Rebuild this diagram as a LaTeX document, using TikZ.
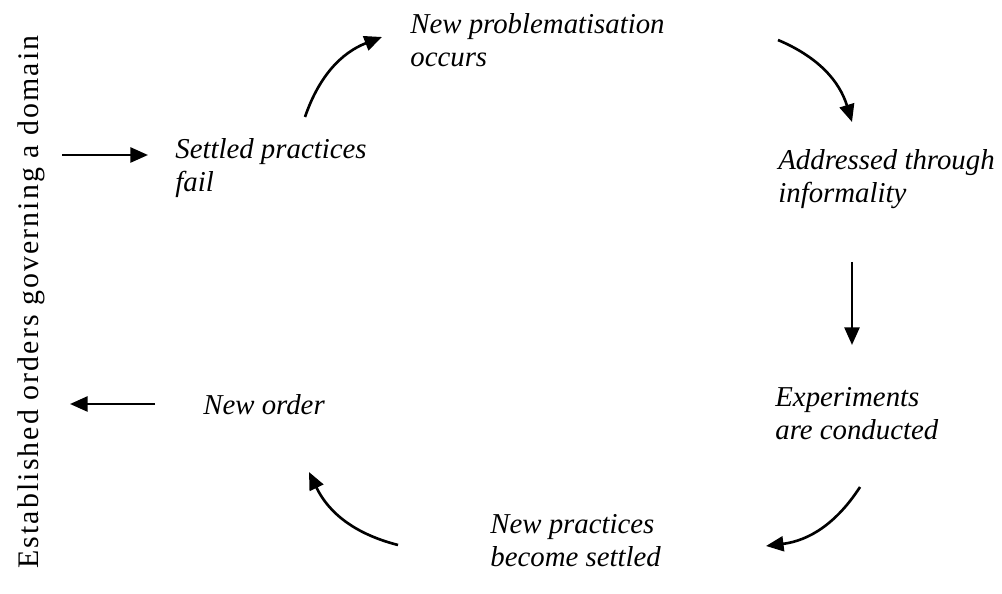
\documentclass[tikz,border=0pt]{standalone}
\usepackage{fontspec}
\setmainfont{Liberation Serif}
\usepackage{tikz}
\usetikzlibrary{arrows.meta,positioning}

\tikzset{
  stage/.style={anchor=west,align=left,inner sep=0pt,font=\fontsize{16.4}{18.7}\selectfont\itshape},
  flow/.style={-{Triangle[length=10pt,width=8.5pt]},line width=1.5pt}
}

\begin{document}
\begin{tikzpicture}[x=0.02cm,y=-0.02cm]
        \useasboundingbox (0,0) rectangle (1002,594);
        % vertical label on the left
        \node[rotate=90,inner sep=0pt,font=\fontsize{17}{20}\selectfont\addfontfeature{LetterSpace=7}] (orders) at (31,302) {Established orders governing a domain};

        % stages of the cycle
        \node[stage] (fail) at (175,168) {Settled practices\\fail};
        \node[stage] (problem) at (410,40) {New problematisation\\occurs};
        \node[stage] (informal) at (778,179) {Addressed through\\informality};
        \node[stage] (experiment) at (775,414) {Experiments\\are conducted};
        \node[stage] (settled) at (490,541) {New practices\\become settled};
        \node[stage] (neworder) at (203,405) {New order};

        % free ends of the arrows
        \coordinate (in1) at (62,155);
        \coordinate (in2) at (148,155);
        \coordinate (out1) at (155,404);
        \coordinate (out2) at (70,404);
        \coordinate (a1) at (305,117);
        \coordinate (a2) at (382,37);
        \coordinate (b1) at (778,40);
        \coordinate (b2) at (852,122);
        \coordinate (c1) at (852,262);
        \coordinate (c2) at (852,345);
        \coordinate (d1) at (860,487);
        \coordinate (d2) at (766,546);
        \coordinate (e1) at (398,545);
        \coordinate (e2) at (309,472);

        \draw[flow] (in1) -- (in2);
        \draw[flow] (a1) to[bend left=25] (a2);
        \draw[flow] (b1) to[bend left=25] (b2);
        \draw[flow] (c1) -- (c2);
        \draw[flow] (d1) to[bend left=25] (d2);
        \draw[flow] (e1) to[bend left=25] (e2);
        \draw[flow] (out1) -- (out2);
    \end{tikzpicture}
\end{document}
